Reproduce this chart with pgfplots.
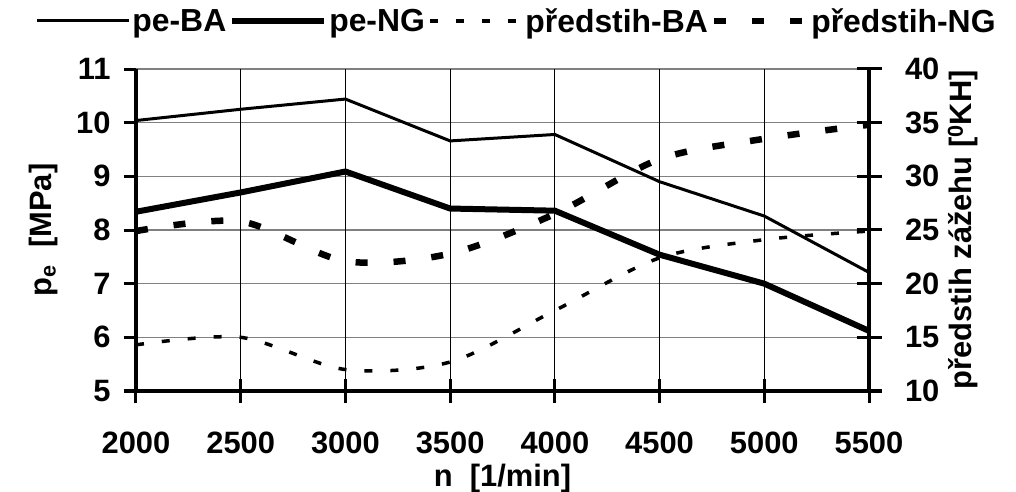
\documentclass[border=0pt]{standalone}
\usepackage{fontspec}
\setmainfont{Liberation Sans}
\usepackage{pgfplots}
\pgfplotsset{compat=1.18}
\pgfplotsset{
  common/.style={
    scale only axis, width=733bp, height=322bp,
    at={(0,0)}, anchor=south west,
    xmin=2000, xmax=5500,
    /pgf/number format/assume math mode=true,
    /pgf/number format/1000 sep={},
    font=\fontsize{31}{36}\selectfont\bfseries,
    tick label style={font=\fontsize{31}{36}\selectfont\bfseries},
  },
}
\begin{document}
\begin{tikzpicture}
\useasboundingbox (-136bp,-101bp) rectangle (880bp,391bp);
% left y axis: horizontal grid, outward ticks
\begin{axis}[
  common,
  clip=false,
  ymin=5, ymax=11, ytick={5,6,...,11},
  axis x line=none, axis y line*=left,
  axis line style={-, line width=3.5bp},
  ymajorgrids,
  y grid style={gray, line width=1.3bp},
  yticklabel style={xshift=-10bp},
  ylabel={p\textsubscript{e}\ \ [MPa]},
  every axis y label/.style={at={(axis description cs:0,0.5)}, xshift=-92bp, rotate=90, anchor=center},
  tick align=outside,
  major tick length=12bp,
  every tick/.append style={black, line width=3bp},
]
\pgfplotsinvokeforeach{5,6,7,8,9,10,11}{
  \draw[black, line width=3bp] ([xshift=-12bp]axis cs:2000,#1) -- (axis cs:2000,#1);
}
\end{axis}
% main axis: x axis, vertical grid, pe data
\begin{axis}[
  common,
  clip=false,
  ymin=5, ymax=11, ytick=\empty,
  xtick={2000,2500,...,5500},
  axis x line=bottom, axis y line=left,
  axis line style={-, line width=3.5bp},
  xticklabel style={yshift=-25bp},
  xmajorgrids,
  x grid style={black, line width=0.9bp},
  xlabel={n\ \ [1/min]},
  every axis x label/.style={at={(axis description cs:0.5,0)}, anchor=base, yshift=-95bp},
  tick align=center,
  major tick length=24bp,
  every tick/.append style={black, line width=3bp},
]
\addplot[black, line width=3bp] coordinates {(2000,10.04) (2500,10.25) (3000,10.44) (3500,9.66) (4000,9.78) (4500,8.9) (5000,8.26) (5500,7.21)};
\addplot[black, line width=6bp] coordinates {(2000,8.34) (2500,8.70) (3000,9.09) (3500,8.40) (4000,8.36) (4500,7.54) (5000,7.0) (5500,6.12)};
\pgfplotsinvokeforeach{2000,2500,3000,3500,4000,4500,5000,5500}{
  \draw[black, line width=3bp] ([yshift=-12bp]axis cs:#1,5) -- ([yshift=12bp]axis cs:#1,5);
}
\end{axis}
% right y axis
\begin{axis}[
  common,
  clip=false,
  ymin=10, ymax=40, ytick={10,15,...,40},
  axis x line=none, axis y line*=right,
  axis line style={-, line width=3.5bp},
  yticklabel style={xshift=20bp},
  ylabel={předstih zážehu [\textsuperscript{0}KH]},
  every axis y label/.style={at={(axis description cs:1,0.5)}, xshift=94bp, rotate=90, anchor=center},
  legend columns=4,
  legend style={at={(axis description cs:0.5,1)}, anchor=center, yshift=48bp, xshift=14bp,
    draw=none, fill=none, font=\fontsize{32}{36}\selectfont\bfseries,
    nodes={inner sep=2bp},
    /tikz/every even column/.append style={column sep=1bp}},
  legend image code/.code={\draw[#1] (6bp,0bp) -- (98bp,0bp);},
  tick align=center,
  major tick length=25bp,
  every tick/.append style={black, line width=3bp},
]
\addlegendimage{black, line width=3bp}
\addlegendentry{pe-BA}
\addlegendimage{black, line width=6bp}
\addlegendentry{pe-NG}
\addplot[black, line width=3.5bp, dash pattern=on 8bp off 18bp, smooth, tension=0.5] coordinates {(2000,14.3) (2500,15.0) (3000,12.0) (3500,12.7) (4000,17.5) (4500,22.4) (5000,24.1) (5500,24.9)};
\addlegendentry{předstih-BA}
\addplot[black, line width=6.5bp, dash pattern=on 12bp off 26bp, smooth, tension=0.5] coordinates {(2000,24.9) (2500,25.8) (3000,22.1) (3500,22.8) (4000,26.5) (4500,31.6) (5000,33.5) (5500,34.8)};
\addlegendentry{předstih-NG}
\pgfplotsinvokeforeach{10,15,20,25,30,35,40}{
  \draw[black, line width=3bp] ([xshift=-12.5bp]axis cs:5500,#1) -- ([xshift=12.5bp]axis cs:5500,#1);
}
\end{axis}
\end{tikzpicture}
\end{document}
